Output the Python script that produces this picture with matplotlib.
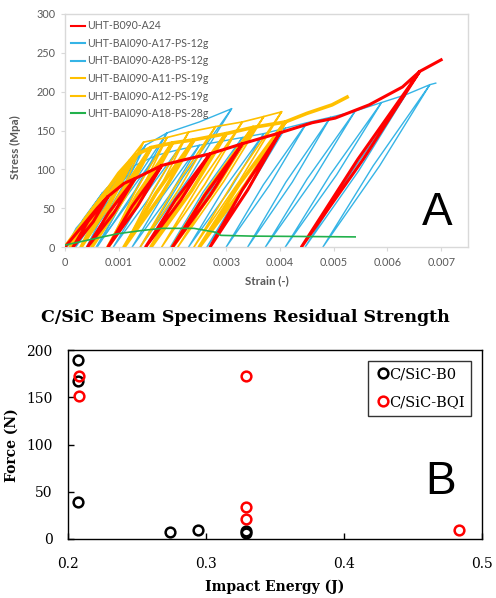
import numpy as np
import matplotlib
matplotlib.use("Agg")
import matplotlib.pyplot as plt
from matplotlib.lines import Line2D

nan = np.nan

# ---------------- Panel A data (strain, stress MPa, residual strain of unload loop) ----------------
red_strain = [0, 0.0003, 0.0006, 0.0008, 0.0011, 0.0013, 0.0018, 0.0022, 0.0027, 0.0033, 0.0040,
              0.0046, 0.00503, 0.00566, 0.00628, 0.0066, 0.0070]
red_stress = [0, 25, 50, 65, 82, 88, 105, 112, 120, 133, 147, 160, 166, 183, 206, 226, 241]
red_resid = [nan, nan, nan, 0.00015, nan, 0.00042, 0.0008, nan, 0.0015, 0.0020, 0.0027,
             nan, nan, nan, nan, 0.0044, nan]

blue1_strain = [0, 0.0004, 0.0007, 0.0011, 0.0015, 0.0019, 0.0025, 0.0031]
blue1_stress = [0, 40, 70, 100, 131, 147, 161, 178]
blue1_resid = [nan, nan, 0.00008, 0.0002, 0.0004, 0.0006, nan, 0.0014]

blue2_strain = [0, 0.0005, 0.0009, 0.0013, 0.0017, 0.0021, 0.0025, 0.0029, 0.0033, 0.0037, 0.0041,
                0.0045, 0.00494, 0.0054, 0.00589, 0.00634, 0.00679, 0.0069]
blue2_stress = [0, 48, 80, 105, 118, 125, 131, 136, 141, 146, 153, 160, 167, 175, 186, 196, 209, 211]
blue2_resid = [nan, 0.00003, 0.00014, 0.0003, 0.00058, 0.0009, 0.00125, 0.0016, 0.00196, 0.0023,
               0.00264, 0.0030, 0.0034, 0.00373, 0.0041, 0.00447, 0.0048, nan]

yel1_strain = [0, 0.0004, 0.0008, 0.0010, 0.0013, 0.0016, 0.0020, 0.0024, 0.0030, 0.0035, 0.0041,
               0.0045, 0.00497, 0.00525]
yel1_stress = [0, 38, 75, 95, 118, 128, 134, 138, 146, 154, 161, 172, 183, 193]
yel1_resid = [nan, nan, 0.0001, nan, 0.0003, 0.0005, 0.0008, 0.0011, 0.0016, 0.0020, 0.0025,
              nan, nan, nan]

yel2_strain = [0, 0.0005, 0.0009, 0.0012, 0.00146, 0.0019, 0.0023, 0.0028, 0.0033, 0.0037, 0.00403]
yel2_stress = [0, 45, 85, 112, 135, 141, 148, 155, 161, 168, 174]
yel2_resid = [nan, nan, 0.00012, 0.0003, 0.0005, 0.0008, 0.0011, 0.0014, 0.0018, 0.0021, 0.0024]

green_strain = [0, 0.0005, 0.00097, 0.0014, 0.0018, 0.0024, 0.0028, 0.0029, 0.0035, 0.0045, 0.0054]
green_stress = [2.5, 10, 17, 21, 24, 24, 19, 15, 14, 13.5, 13]

series_names = ["UHT-B090-A24", "UHT-BAI090-A17-PS-12g", "UHT-BAI090-A28-PS-12g",
                "UHT-BAI090-A11-PS-19g", "UHT-BAI090-A12-PS-19g", "UHT-BAI090-A18-PS-28g"]

# ---------------- Panel B data ----------------
b0_energy = [0.207, 0.207, 0.207, 0.274, 0.294, 0.329, 0.329]
b0_force = [189, 167, 39, 7, 10, 8, 6]
bqi_energy = [0.208, 0.208, 0.329, 0.329, 0.329, 0.483]
bqi_force = [173, 151, 172, 34, 21, 9]

RED = "#FF0000"
BLUE = "#35B4E6"
YEL = "#FFC000"
GREEN = "#22B14C"
GRAY = "#595959"


def loop_path(strain, stress, resid, gap):
    xs, ys = [], []
    for s, t, r in zip(strain, stress, resid):
        xs.append(s); ys.append(t)
        if not np.isnan(r):
            xm = (s + r) / 2.0
            xs += [xm - gap, r, xm + gap, s]
            ys += [t / 2.0, 0, t / 2.0, t]
    return xs, ys


fig = plt.figure(figsize=(4.96, 5.98), dpi=100)

# ---------------- Panel A ----------------
axA = fig.add_axes([65 / 496, 1 - 247 / 598, (468 - 65) / 496, (247 - 14) / 598])
tfont = "Lato"

x, y = loop_path(blue2_strain, blue2_stress, blue2_resid, 0.00006)
axA.plot(x, y, color=BLUE, lw=1.0, zorder=2)
x, y = loop_path(blue1_strain, blue1_stress, blue1_resid, 0.00006)
axA.plot(x, y, color=BLUE, lw=1.0, zorder=2)
x, y = loop_path(yel2_strain, yel2_stress, yel2_resid, 0.00005)
axA.plot(x, y, color=YEL, lw=1.2, zorder=3)
x, y = loop_path(yel1_strain, yel1_stress, yel1_resid, 0.00006)
axA.plot(x, y, color=YEL, lw=2.6, zorder=3)
x, y = loop_path(red_strain, red_stress, red_resid, 0.00005)
axA.plot(x, y, color=RED, lw=2.2, zorder=4)
axA.plot(green_strain, green_stress, color=GREEN, lw=1.2, zorder=5)

axA.set_xlim(0, 0.0075)
axA.set_ylim(0, 300)
axA.set_xticks([0, 0.001, 0.002, 0.003, 0.004, 0.005, 0.006, 0.007])
axA.set_xticklabels(["0", "0.001", "0.002", "0.003", "0.004", "0.005", "0.006", "0.007"])
axA.set_yticks([0, 50, 100, 150, 200, 250, 300])
for sp in axA.spines.values():
    sp.set_color("#D9D9D9")
    sp.set_linewidth(1.0)
axA.tick_params(colors="#D9D9D9", labelcolor=GRAY, length=3, width=0.8, labelsize=7.8, pad=4)
for lab in axA.get_xticklabels() + axA.get_yticklabels():
    lab.set_family(tfont)

handles = [Line2D([], [], color=c, lw=1.5) for c in [RED, BLUE, BLUE, YEL, YEL, GREEN]]
leg = axA.legend(handles, series_names, loc="upper left", frameon=False,
                 prop={"family": tfont, "size": 7.6}, handlelength=1.3, handletextpad=0.15,
                 labelspacing=0.62, borderaxespad=0.2, bbox_to_anchor=(0.0, 1.0))
for t in leg.get_texts():
    t.set_color(GRAY)

fig.text(15 / 496, 1 - 147 / 598, "Stress (Mpa)", rotation=90, ha="center", va="center",
         family=tfont, fontsize=8.3, fontweight="bold", color=GRAY)
fig.text(267 / 496, 1 - 281 / 598, "Strain (-)", ha="center", va="center",
         family=tfont, fontsize=8.3, fontweight="bold", color=GRAY)
fig.text(437 / 496, 1 - 213 / 598, "A", ha="center", va="center",
         family="Liberation Sans", fontsize=33, color="black")

# ---------------- Panel B ----------------
axB = fig.add_axes([68 / 496, 1 - 539 / 598, (482 - 68) / 496, (539 - 350) / 598])
sfont = "DejaVu Serif"
axB.plot(b0_energy, b0_force, linestyle="none", marker="o", ms=7, mfc="none",
         mec="black", mew=1.8, label="C/SiC-B0")
axB.plot(bqi_energy, bqi_force, linestyle="none", marker="o", ms=7, mfc="none",
         mec=RED, mew=1.8, label="C/SiC-BQI")
axB.set_xlim(0.2, 0.5)
axB.set_ylim(0, 200)
axB.set_xticks([0.2, 0.3, 0.4, 0.5])
axB.set_xticklabels(["0.2", "0.3", "0.4", "0.5"])
axB.set_yticks([0, 50, 100, 150, 200])
for sp in axB.spines.values():
    sp.set_color("black")
    sp.set_linewidth(1.0)
axB.tick_params(direction="in", length=4, width=1, labelsize=10, colors="black")
axB.tick_params(axis="y", pad=11)
axB.tick_params(axis="x", pad=13)
for lab in axB.get_xticklabels() + axB.get_yticklabels():
    lab.set_family(sfont)
legB = axB.legend(loc="upper right", frameon=True, fancybox=False, edgecolor="black",
                  prop={"family": sfont, "size": 10.5}, handletextpad=-0.2, borderpad=0.45,
                  labelspacing=0.95, borderaxespad=0.75, handlelength=1.2)
legB.get_frame().set_linewidth(1.0)

fig.text(0.495, 1 - 318 / 598, "C/SiC Beam Specimens Residual Strength", ha="center",
         va="center", family=sfont, fontsize=12.5, fontweight="bold")
fig.text(275 / 496, 1 - 587 / 598, "Impact Energy (J)", ha="center", va="center",
         family=sfont, fontsize=10, fontweight="bold")
fig.text(12 / 496, 1 - 445 / 598, "Force (N)", rotation=90, ha="center", va="center",
         family=sfont, fontsize=10, fontweight="bold")
fig.text(441 / 496, 1 - 482 / 598, "B", ha="center", va="center",
         family="Liberation Sans", fontsize=33, color="black")

fig.savefig("out.png", dpi=100)
